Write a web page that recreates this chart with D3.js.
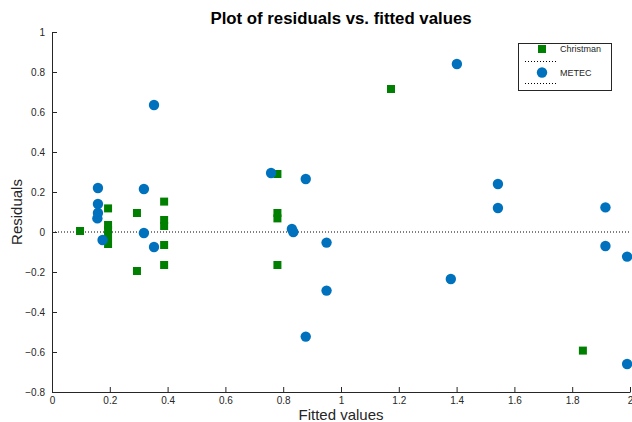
<!DOCTYPE html>
<html>
<head>
<meta charset="utf-8">
<script src="https://cdn.jsdelivr.net/npm/d3@7"></script>
<style>
  body { margin: 0; background: #fff; }
  svg { display: block; font-family: "Liberation Sans", Arial, sans-serif; }
</style>
</head>
<body>
<svg id="chart" width="632" height="422"></svg>
<script>
// ---- data ----
const christmanX = [0.097, 0.194, 0.194, 0.194, 0.194, 0.194, 0.294, 0.294, 0.388, 0.388, 0.388, 0.388, 0.388, 0.78, 0.78, 0.78, 0.78, 1.173, 1.837];
const christmanY = [0.005, 0.118, 0.035, 0.01, -0.02, -0.06, 0.095, -0.195, 0.152, 0.06, 0.03, -0.065, -0.165, 0.29, 0.095, 0.068, -0.165, 0.715, -0.593];
const metecX = [0.159, 0.159, 0.159, 0.157, 0.175, 0.318, 0.318, 0.353, 0.353, 0.758, 0.878, 0.83, 0.835, 0.95, 0.95, 0.878, 1.401, 1.38, 1.543, 1.543, 1.915, 1.915, 1.99, 1.99];
const metecY = [0.22, 0.14, 0.095, 0.068, -0.04, 0.215, -0.005, -0.075, 0.635, 0.295, 0.265, 0.015, 0.0, -0.053, -0.293, -0.523, 0.84, -0.235, 0.24, 0.12, 0.123, -0.07, -0.123, -0.66];
const xTicks = [0, 0.2, 0.4, 0.6, 0.8, 1, 1.2, 1.4, 1.6, 1.8, 2];
const yTicks = [-0.8, -0.6, -0.4, -0.2, 0, 0.2, 0.4, 0.6, 0.8, 1];
const seriesNames = ["Christman", "METEC"];

const svg = d3.select("#chart");
const mLeft = 52, mRight = 630, mTop = 32, mBottom = 392;
const x = d3.scaleLinear().domain([0, 2]).range([mLeft, mRight]);
const y = d3.scaleLinear().domain([-0.8, 1]).range([mBottom, mTop]);
const axisColor = "#262626";

// zero line
svg.append("line")
  .attr("x1", x(0)).attr("x2", x(2))
  .attr("y1", y(0)).attr("y2", y(0))
  .attr("stroke", "#000").attr("stroke-width", 1)
  .attr("stroke-dasharray", "1,2");

// axes
const fmt = d => d3.format("")(d);
const xAxis = d3.axisBottom(x).tickValues(xTicks).tickFormat(fmt).tickSizeInner(-5).tickSizeOuter(0).tickPadding(5);
const yAxis = d3.axisLeft(y).tickValues(yTicks).tickFormat(fmt).tickSizeInner(-5).tickSizeOuter(0).tickPadding(7);

const gx = svg.append("g").attr("transform", `translate(0,${mBottom})`).call(xAxis);
const gy = svg.append("g").attr("transform", `translate(${mLeft},0)`).call(yAxis);
[gx, gy].forEach(g => {
  g.select(".domain").attr("stroke", axisColor);
  g.selectAll(".tick line").attr("stroke", axisColor);
  g.selectAll(".tick text").attr("fill", axisColor).style("font-size", "10px").style("font-family", "Liberation Sans, Arial, sans-serif");
});

// points
const data1 = christmanX.map((v, i) => ({ x: v, y: christmanY[i] }));
const data2 = metecX.map((v, i) => ({ x: v, y: metecY[i] }));
const sq = 8;
svg.append("g").selectAll("rect").data(data1).join("rect")
  .attr("x", d => x(d.x) - sq / 2).attr("y", d => y(d.y) - sq / 2)
  .attr("width", sq).attr("height", sq)
  .attr("fill", "#008000");
svg.append("g").selectAll("circle").data(data2).join("circle")
  .attr("cx", d => x(d.x)).attr("cy", d => y(d.y)).attr("r", 5.2)
  .attr("fill", "#0072BD");

// title and labels
svg.append("text").attr("x", 341).attr("y", 24).attr("text-anchor", "middle")
  .style("font-size", "16.8px").style("font-weight", "bold").attr("fill", "#000")
  .text("Plot of residuals vs. fitted values");
svg.append("text").attr("x", 341).attr("y", 420).attr("text-anchor", "middle")
  .style("font-size", "15px").attr("fill", axisColor).text("Fitted values");
svg.append("text").attr("transform", "translate(22,212) rotate(-90)").attr("text-anchor", "middle")
  .style("font-size", "15px").attr("fill", axisColor).text("Residuals");

// legend
const lg = svg.append("g");
lg.append("rect").attr("x", 518.5).attr("y", 43.5).attr("width", 93).attr("height", 47)
  .attr("fill", "#fff").attr("stroke", axisColor).attr("stroke-width", 1);
lg.append("rect").attr("x", 538).attr("y", 45).attr("width", 8).attr("height", 8).attr("fill", "#008000");
lg.append("circle").attr("cx", 542).attr("cy", 72.5).attr("r", 5.2).attr("fill", "#0072BD");
[61.5, 83.5].forEach(yy => lg.append("line").attr("x1", 525).attr("x2", 556).attr("y1", yy).attr("y2", yy)
  .attr("stroke", "#000").attr("stroke-dasharray", "1,2"));
seriesNames.forEach((n, i) => lg.append("text").attr("x", 560).attr("y", 52 + i * 24)
  .style("font-size", "9px").attr("fill", axisColor).text(n));
</script>
</body>
</html>
